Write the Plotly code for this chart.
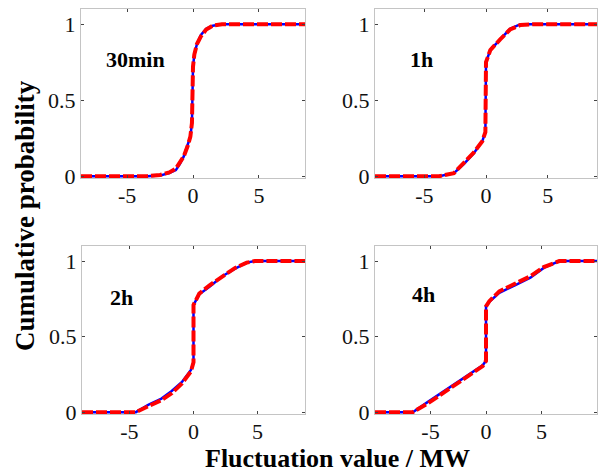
import plotly.graph_objects as go

# Fluctuation values (MW) and cumulative probabilities for each time scale
x_30min = [-8.5, -3.5, -2.5, -1.8, -1.3, -1.0, -0.7, -0.4, -0.2, -0.08, 0.0, 0.1, 0.3, 0.6, 1.0, 1.5, 2.2, 3.0, 8.5]
p_30min_a = [0.0, 0.0, 0.005, 0.02, 0.04, 0.08, 0.13, 0.2, 0.26, 0.35, 0.72, 0.8, 0.87, 0.93, 0.97, 0.99, 1.0, 1.0, 1.0]
p_30min_b = [0.0, 0.0, 0.008, 0.025, 0.05, 0.085, 0.13, 0.2, 0.26, 0.35, 0.72, 0.8, 0.87, 0.92, 0.965, 0.99, 1.0, 1.0, 1.0]

x_1h = [-9.0, -3.8, -2.6, -1.8, -1.0, -0.3, -0.05, 0.0, 0.35, 1.15, 1.95, 2.8, 4.0, 9.0]
p_1h_a = [0.0, 0.0, 0.02, 0.08, 0.15, 0.23, 0.29, 0.75, 0.83, 0.9, 0.97, 1.0, 1.0, 1.0]
p_1h_b = [0.0, 0.0, 0.02, 0.085, 0.155, 0.23, 0.29, 0.75, 0.83, 0.9, 0.965, 0.995, 1.0, 1.0]

x_2h = [-8.7, -4.5, -3.5, -2.5, -1.7, -0.9, -0.2, 0.0, 0.0, 0.45, 1.25, 2.25, 3.25, 4.15, 4.8, 8.7]
p_2h_a = [0.0, 0.0, 0.05, 0.09, 0.14, 0.2, 0.28, 0.33, 0.71, 0.78, 0.83, 0.9, 0.95, 0.99, 1.0, 1.0]
p_2h_b = [0.0, 0.0, 0.04, 0.08, 0.125, 0.19, 0.27, 0.33, 0.71, 0.785, 0.84, 0.9, 0.955, 0.99, 1.0, 1.0]

x_4h = [-10.0, -6.6, -5.2, -3.8, -2.3, -1.2, -0.3, 0.0, 0.0, 0.3, 1.2, 2.6, 4.0, 5.2, 6.6, 10.0]
p_4h_a = [0.0, 0.0, 0.07, 0.14, 0.21, 0.27, 0.31, 0.34, 0.70, 0.73, 0.79, 0.84, 0.89, 0.955, 1.0, 1.0]
p_4h_b = [0.0, 0.0, 0.06, 0.13, 0.2, 0.26, 0.305, 0.34, 0.70, 0.735, 0.8, 0.85, 0.9, 0.96, 1.0, 1.0]

panel_labels = ["30min", "1h", "2h", "4h"]
x_ranges = [[-8.5, 8.5], [-9, 9], [-8.7, 8.7], [-10, 10]]
label_pos = [(-4.4, 0.77), (-5.2, 0.77), (-5.6, 0.76), (-5.6, 0.78)]

x_tick_vals = [-5, 0, 5]
x_tick_text = ["-5", "0", "5"]
y_tick_vals = [0, 0.5, 1]
y_tick_text = ["0", "0.5", "1"]

panels = [
    (x_30min, p_30min_a, p_30min_b),
    (x_1h, p_1h_a, p_1h_b),
    (x_2h, p_2h_a, p_2h_b),
    (x_4h, p_4h_a, p_4h_b),
]

W, H = 604, 472
x_domains = [[81 / W, 305 / W], [375 / W, 597 / W], [82 / W, 305 / W], [375 / W, 597 / W]]
y_top = [1 - 178 / H, 1 - 9 / H]
y_bot = [1 - 414 / H, 1 - 246 / H]
y_domains = [y_top, y_top, y_bot, y_bot]

SERIF = "Liberation Serif, Times New Roman, serif"

fig = go.Figure()
layout = dict(
    template="none",
    width=W, height=H, autosize=False,
    margin=dict(l=0, r=0, t=0, b=0, pad=0, autoexpand=False),
    paper_bgcolor="white", plot_bgcolor="white",
    showlegend=False,
    font=dict(family=SERIF, size=22, color="black"),
)

annotations = []
for i, (xs, pa, pb) in enumerate(panels):
    n = "" if i == 0 else str(i + 1)
    xa, ya = "x" + n, "y" + n
    fig.add_trace(go.Scatter(x=xs, y=pa, mode="lines", xaxis=xa, yaxis=ya,
                             line=dict(color="#0000ff", width=2.5)))
    fig.add_trace(go.Scatter(x=xs, y=pb, mode="lines", xaxis=xa, yaxis=ya,
                             line=dict(color="#ff0000", width=4, dash="11px,3px")))
    common = dict(showline=True, linecolor="#c4c4c4", linewidth=1, mirror="ticks",
                  ticks="inside", ticklen=3, tickcolor="#444", showgrid=False,
                  zeroline=False, automargin=False,
                  tickfont=dict(family=SERIF, size=22, color="#111"))
    layout["xaxis" + n] = dict(domain=x_domains[i], range=x_ranges[i], anchor=ya,
                               tickvals=x_tick_vals, ticktext=x_tick_text,
                               ticklabelstandoff=-2, **common)
    layout["yaxis" + n] = dict(domain=y_domains[i], range=[-0.012, 1.1], anchor=xa,
                               tickvals=y_tick_vals, ticktext=y_tick_text, **common)
    lx, ly = label_pos[i]
    annotations.append(dict(x=lx, y=ly, xref=xa, yref=ya, text="<b>" + panel_labels[i] + "</b>",
                            xanchor="center", yanchor="middle", showarrow=False,
                            font=dict(family=SERIF, size=22, color="black")))

annotations.append(dict(x=25 / W, y=1 - 216 / H, xref="paper", yref="paper",
                        xanchor="center", yanchor="middle",
                        text="<b>Cumulative probability</b>", textangle=-90, showarrow=False,
                        font=dict(family=SERIF, size=27, color="black")))
annotations.append(dict(x=337 / W, y=1 - 458 / H, xref="paper", yref="paper",
                        xanchor="center", yanchor="middle",
                        text="<b>Fluctuation value / MW</b>", showarrow=False,
                        font=dict(family=SERIF, size=26, color="black")))
layout["annotations"] = annotations

fig.update_layout(**layout)
fig.write_html("out.html")
